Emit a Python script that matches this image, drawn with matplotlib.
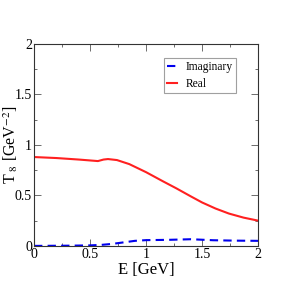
import matplotlib
matplotlib.use("Agg")
import matplotlib.pyplot as plt
from matplotlib.ticker import MultipleLocator

plt.rcParams['font.family'] = ['Liberation Serif', 'DejaVu Serif']
plt.rcParams['mathtext.fontset'] = 'stix'

E_real = [0.0, 0.2, 0.4, 0.57, 0.62, 0.66, 0.74, 0.85, 1.0, 1.15, 1.27, 1.4, 1.5, 1.62, 1.74, 1.87, 2.0]
T_real = [0.88, 0.87, 0.855, 0.84, 0.855, 0.86, 0.85, 0.81, 0.73, 0.64, 0.57, 0.49, 0.43, 0.37, 0.32, 0.28, 0.25]

E_imag = [0.0, 0.3, 0.5, 0.6, 0.7, 0.8, 0.9, 1.0, 1.2, 1.4, 1.6, 1.8, 2.0]
T_imag = [0.0, 0.002, 0.005, 0.01, 0.02, 0.035, 0.05, 0.057, 0.06, 0.066, 0.056, 0.052, 0.05]

x_ticks = [0, 0.5, 1, 1.5, 2]
x_ticklabels = ['0', '0.5', '1', '1.5', '2']
y_ticks = [0, 0.5, 1, 1.5, 2]
y_ticklabels = ['0', '0.5', '1', '1.5', '2']

fig = plt.figure(figsize=(2.91, 2.91), dpi=100)
ax = fig.add_axes([0.117, 0.155, 0.77, 0.694])
ax.plot(E_imag, T_imag, color='#0000ee', ls=(0, (4, 2.5)), lw=1.5, label='Imaginary')
ax.plot(E_real, T_real, color='#ff2020', lw=1.5, label='Real')
ax.set_xlim(0, 2)
ax.set_ylim(0, 2)
ax.set_xticks(x_ticks)
ax.set_xticklabels(x_ticklabels)
ax.set_yticks(y_ticks)
ax.set_yticklabels(y_ticklabels)
ax.xaxis.set_minor_locator(MultipleLocator(0.25))
ax.yaxis.set_minor_locator(MultipleLocator(0.25))
ax.tick_params(which='both', direction='in', top=True, right=True, labelsize=10, width=0.6, color='#555555', pad=1.5)
ax.tick_params(which='major', length=5)
ax.tick_params(which='minor', length=2.5)
for s in ax.spines.values():
    s.set_linewidth(0.8)
    s.set_color('#333333')
ax.set_xlabel('E [GeV]', fontsize=12, labelpad=1)
ax.set_ylabel(r'T$_{\ 8}$ [GeV$^{-2}$]', fontsize=11.5)
ax.yaxis.set_label_coords(-0.062, 0.5)
leg = ax.legend(loc='upper right', bbox_to_anchor=(0.927, 0.96), fontsize=8.3, frameon=True, fancybox=False,
                edgecolor='#888888', handlelength=0.9, handletextpad=0.7, borderpad=0.3, labelspacing=0.4)
leg.get_frame().set_linewidth(0.8)
fig.savefig('out.png', dpi=100)
